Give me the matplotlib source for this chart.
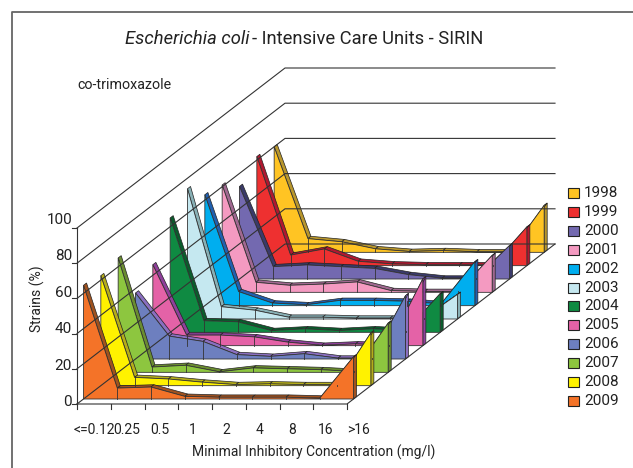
import matplotlib
matplotlib.use("Agg")
import matplotlib.pyplot as plt
from matplotlib.patches import Polygon, Rectangle

plt.rcParams['font.family'] = ['Roboto', 'Liberation Sans', 'DejaVu Sans']

# datos
categorias = ['<=0.12', '0.25', '0.5', '1', '2', '4', '8', '16', '>16']
anios = ['1998', '1999', '2000', '2001', '2002', '2003', '2004', '2005', '2006', '2007', '2008', '2009']

s1998 = [60, 7.8, 6, 2, 0.5, 1, 0.3, 0.3, 26.7]
s1999 = [62, 6, 9.5, 2.5, 1, 0.5, 0.5, 0.5, 22]
s2000 = [52.6, 7, 8, 7, 6, 2.5, 0.5, 0.5, 19]
s2001 = [61, 5.7, 4, 4.7, 5.9, 1, 0.5, 0.5, 21]
s2002 = [63, 8, 1.5, 0.5, 3, 3, 2.5, 1, 25]
s2003 = [74, 7, 5, 1, 1, 0.5, 0.5, 0.5, 14]
s2004 = [65, 6.6, 6, 1, 2, 1, 2, 1, 22]
s2005 = [46, 6, 6, 5, 2, 0.2, 1, 0.3, 38]
s2006 = [37.5, 13, 10, 2.5, 1.5, 3, 0.5, 0.5, 36]
s2007 = [65, 3, 4, 0.3, 2.5, 2, 1.5, 0.5, 28]
s2008 = [62.5, 4.7, 3.8, 2, 0.6, 1, 0.6, 0.6, 30]
s2009 = [64.6, 6.2, 6.8, 1.5, 1, 1, 1, 0.5, 24]
series = [s1998, s1999, s2000, s2001, s2002, s2003, s2004, s2005, s2006, s2007, s2008, s2009]

colores = ['#ffc423', '#ee3030', '#7369b0', '#f49ac1', '#00aeef', '#c5e8f0',
           '#0f8a42', '#e462a7', '#6d7fbf', '#8dc63f', '#fff200', '#f47328']
oscuros = ['#b8962c', '#b01830', '#3a3a6a', '#a06890', '#2060b0', '#88b0b5',
           '#0a5c2c', '#8f3f9a', '#8a6fc0', '#6a8c30', '#b5ad1a', '#a0521f']

# proyeccion oblicua a pixeles de la imagen
X0, Y0 = 77, 404
PASO_X = 33.75
ESC_Y = 1.76
PROF_X, PROF_Y = 208, -160
ticks_y = [0, 20, 40, 60, 80, 100]


def proyectar(i, v, z):
    # i = categoria, v = valor en %, z = profundidad de 0 (frente) a 1 (fondo)
    return (X0 + i * PASO_X + z * PROF_X, Y0 - v * ESC_Y + z * PROF_Y)


fig = plt.figure(figsize=(6.33, 4.68), dpi=100)
ax = fig.add_axes([0, 0, 1, 1])
ax.set_xlim(0, 633)
ax.set_ylim(468, 0)
ax.axis('off')

# marco del grafico
ax.plot([12, 12, 633], [468, 11.7, 11.7], color='#666666', lw=1.3)

n = len(categorias) - 1
linea = '#333333'

# paredes y grilla
for t in ticks_y:
    a = proyectar(0, t, 0)
    b = proyectar(0, t, 1)
    c = proyectar(n, t, 1)
    ax.plot([a[0], b[0], c[0]], [a[1], b[1], c[1]], color=linea, lw=0.8)
    ax.plot([a[0] - 5, a[0]], [a[1], a[1]], color=linea, lw=0.8)
    ax.text(72, 402 - t * 1.82, str(t), ha='right', va='center', fontsize=11, color='#222222')

a = proyectar(0, 0, 0)
b = proyectar(0, 100, 0)
ax.plot([a[0], b[0]], [a[1], b[1]], color=linea, lw=0.8)
a = proyectar(n, 0, 0)
b = proyectar(n, 0, 1)
ax.plot([X0, a[0], b[0]], [Y0, a[1], b[1]], color=linea, lw=0.8)

for i, cat in enumerate(categorias):
    p = proyectar(i, 0, 0)
    ax.plot([p[0], p[0]], [p[1], p[1] + 5], color=linea, lw=0.8)
    ax.text(p[0] + 17 - 0.7 * i, 430, cat, ha='center', va='center', fontsize=10, color='#222222')

# series desde el fondo hacia el frente
total = len(series)
for k in range(total):
    valores = series[k]
    z1 = (total - 1 - k + 0.375) / total
    z2 = (total - 1 - k + 0.55) / total

    # cara derecha
    q = [proyectar(n, 0, z1), proyectar(n, 0, z2), proyectar(n, valores[n], z2), proyectar(n, valores[n], z1)]
    ax.add_patch(Polygon(q, facecolor=oscuros[k], edgecolor='#222222', lw=0.5))

    # tiras superiores
    for i in range(n):
        q = [proyectar(i, valores[i], z1), proyectar(i + 1, valores[i + 1], z1),
             proyectar(i + 1, valores[i + 1], z2), proyectar(i, valores[i], z2)]
        ax.add_patch(Polygon(q, facecolor=oscuros[k], edgecolor='#222222', lw=0.5))

    # cara frontal
    q = [proyectar(0, 0, z1)]
    for i in range(n + 1):
        q.append(proyectar(i, valores[i], z1))
    q.append(proyectar(n, 0, z1))
    ax.add_patch(Polygon(q, facecolor=colores[k], edgecolor='#333333', lw=0.6))

    # lineas verticales en cada categoria
    for i in range(1, n):
        p1 = proyectar(i, 0, z1)
        p2 = proyectar(i, valores[i], z1)
        ax.plot([p1[0], p2[0]], [p1[1], p2[1]], color='#333333', lw=0.6)

# textos
ax.text(125, 39, 'Escherichia coli', style='italic', ha='left', va='center', fontsize=13.2, color='#222222')
ax.text(252, 39, '- Intensive Care Units - SIRIN', ha='left', va='center', fontsize=13.2, color='#222222')
ax.text(77, 85, 'co-trimoxazole', ha='left', va='center', fontsize=10.3, color='#222222')
ax.text(37, 299, 'Strains (%)', rotation=90, ha='center', va='center', fontsize=10, color='#222222')
ax.text(314, 452, 'Minimal Inhibitory Concentration (mg/l)', ha='center', va='center', fontsize=10, color='#222222')

# leyenda
for k, anio in enumerate(anios):
    y = 193 + k * 18.9
    ax.add_patch(Rectangle((567.5, y - 5), 11, 10, facecolor=colores[k], edgecolor='#222222', lw=0.8))
    ax.text(584, y, anio, ha='left', va='center', fontsize=11, color='#222222')

fig.savefig('out.png', dpi=100)
